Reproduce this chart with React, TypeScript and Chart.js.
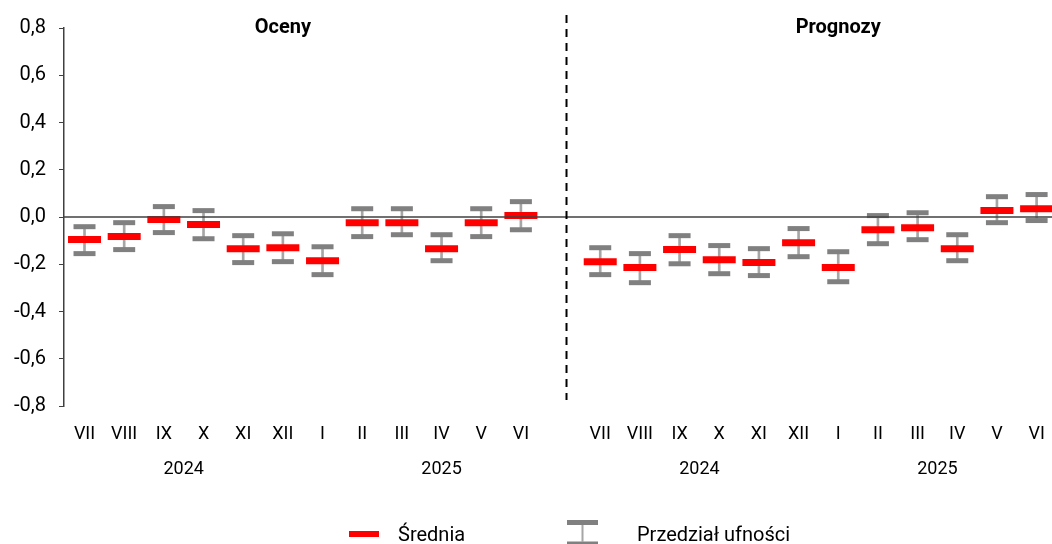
import React, { useEffect, useRef } from "react";
import { Chart, registerables } from "chart.js";

Chart.register(...registerables);

// ---------- data ----------
const MONTHS = ["VII", "VIII", "IX", "X", "XI", "XII", "I", "II", "III", "IV", "V", "VI"];
const YEARS = ["2024", "2025"];
const PANEL_TITLES = ["Oceny", "Prognozy"];

const OCENY_MEAN = [-0.095, -0.083, -0.011, -0.032, -0.134, -0.13, -0.185, -0.024, -0.024, -0.134, -0.024, 0.006];
const OCENY_HIGH = [-0.041, -0.024, 0.044, 0.027, -0.079, -0.071, -0.126, 0.035, 0.035, -0.075, 0.035, 0.065];
const OCENY_LOW = [-0.155, -0.138, -0.066, -0.092, -0.193, -0.189, -0.244, -0.083, -0.075, -0.185, -0.083, -0.054];

const PROG_MEAN = [-0.189, -0.214, -0.138, -0.181, -0.193, -0.109, -0.214, -0.054, -0.045, -0.134, 0.027, 0.035];
const PROG_HIGH = [-0.13, -0.155, -0.079, -0.121, -0.134, -0.049, -0.147, 0.006, 0.018, -0.075, 0.086, 0.095];
const PROG_LOW = [-0.244, -0.278, -0.198, -0.24, -0.248, -0.168, -0.274, -0.113, -0.096, -0.185, -0.024, -0.015];

const Y_MIN = -0.8;
const Y_MAX = 0.8;
const Y_STEP = 0.2;

const LEGEND_LABELS = ["Średnia", "Przedział ufności"];

// ---------- helpers ----------
const GAP = 1; // one empty slot between the panels
const OFFSET_PROG = MONTHS.length + GAP;

function pts(values: number[], offset: number) {
  return values.map((v, i) => ({ x: offset + i, y: v }));
}
function ranges(lo: number[], hi: number[], offset: number) {
  return lo.map((l, i) => ({ x: offset + i, y: [l, hi[i]] }));
}

const FONT = "Roboto, 'Liberation Sans', Arial, sans-serif";
const RED = "#ff0000";
const CAP = "#808080";
const WHISKER = "#a6a6a6";

const overlay = {
  id: "overlay",
  afterDatasetsDraw(chart: any) {
    const { ctx, chartArea, scales } = chart;
    const x = scales.x;
    const y = scales.y;
    ctx.save();

    // zero line
    const y0 = y.getPixelForValue(0);
    ctx.strokeStyle = "#404040";
    ctx.lineWidth = 1.5;
    ctx.beginPath();
    ctx.moveTo(chartArea.left, y0);
    ctx.lineTo(chartArea.right, y0);
    ctx.stroke();

    // dashed divider
    const xd = x.getPixelForValue(MONTHS.length - 1 + 0.5 + 0.65);
    ctx.setLineDash([8, 6]);
    ctx.lineWidth = 2;
    ctx.strokeStyle = "#000";
    ctx.beginPath();
    ctx.moveTo(xd, chartArea.top - 13);
    ctx.lineTo(xd, chartArea.bottom - 6);
    ctx.stroke();
    ctx.setLineDash([]);

    // panel titles
    ctx.fillStyle = "#000";
    ctx.textAlign = "center";
    ctx.textBaseline = "alphabetic";
    ctx.font = `bold 20px ${FONT}`;
    ctx.fillText(PANEL_TITLES[0], x.getPixelForValue(5), chartArea.top + 5);
    ctx.fillText(PANEL_TITLES[1], x.getPixelForValue(OFFSET_PROG + 6), chartArea.top + 5);

    // year labels
    ctx.font = `18px ${FONT}`;
    const yb = chartArea.bottom + 68;
    ctx.fillText(YEARS[0], x.getPixelForValue(2.5), yb);
    ctx.fillText(YEARS[1], x.getPixelForValue(9), yb);
    ctx.fillText(YEARS[0], x.getPixelForValue(OFFSET_PROG + 2.5), yb);
    ctx.fillText(YEARS[1], x.getPixelForValue(OFFSET_PROG + 8.5), yb);

    // legend
    const lb = chart.height - 3;
    ctx.fillStyle = RED;
    ctx.fillRect(349, lb - 10, 30, 6);
    ctx.fillStyle = CAP;
    ctx.fillRect(567, lb - 21, 31, 5);
    ctx.fillRect(567, lb + 0.5, 31, 5);
    ctx.fillStyle = WHISKER;
    ctx.fillRect(581.5, lb - 16, 2, 17);
    ctx.fillStyle = "#000";
    ctx.textAlign = "left";
    ctx.font = `20px ${FONT}`;
    ctx.fillText(LEGEND_LABELS[0], 398, lb);
    ctx.fillText(LEGEND_LABELS[1], 637, lb);

    ctx.restore();
  },
};

export default function App() {
  const ref = useRef<HTMLCanvasElement | null>(null);

  useEffect(() => {
    if (!ref.current) return;
    document.body.style.margin = "0";
    document.body.style.overflow = "hidden";

    const chart = new Chart(ref.current, {
      type: "scatter",
      data: {
        datasets: [
          {
            type: "bar",
            label: "whisker",
            data: [...ranges(OCENY_LOW, OCENY_HIGH, 0), ...ranges(PROG_LOW, PROG_HIGH, OFFSET_PROG)] as any,
            backgroundColor: WHISKER,
            borderWidth: 0,
            barThickness: 2,
            order: 3,
          } as any,
          {
            label: "high",
            data: [...pts(OCENY_HIGH, 0), ...pts(PROG_HIGH, OFFSET_PROG)],
            pointStyle: "line",
            pointRadius: 11,
            borderWidth: 5,
            borderColor: CAP,
            backgroundColor: CAP,
            order: 2,
          } as any,
          {
            label: "low",
            data: [...pts(OCENY_LOW, 0), ...pts(PROG_LOW, OFFSET_PROG)],
            pointStyle: "line",
            pointRadius: 11,
            borderWidth: 5,
            borderColor: CAP,
            backgroundColor: CAP,
            order: 2,
          } as any,
          {
            label: "mean",
            data: [...pts(OCENY_MEAN, 0), ...pts(PROG_MEAN, OFFSET_PROG)],
            pointStyle: "line",
            pointRadius: 16.5,
            borderWidth: 7,
            borderColor: RED,
            backgroundColor: RED,
            order: 1,
          } as any,
        ],
      },
      options: {
        animation: false,
        responsive: false,
        devicePixelRatio: 1,
        events: [],
        layout: { autoPadding: false, padding: { top: 28, left: 0, right: 0, bottom: 0 } },
        plugins: { legend: { display: false }, tooltip: { enabled: false } },
        scales: {
          x: {
            type: "linear",
            offset: false,
            min: -0.517,
            max: 24.388,
            grid: { display: false, drawTicks: true, tickLength: 18 },
            border: { display: false },
            afterBuildTicks: (scale: any) => {
              const t: any[] = [];
              MONTHS.forEach((_, i) => t.push({ value: i }));
              MONTHS.forEach((_, i) => t.push({ value: OFFSET_PROG + i }));
              scale.ticks = t;
            },
            afterFit: (scale: any) => {
              scale.height = 138;
            },
            ticks: {
              autoSkip: false,
              maxRotation: 0,
              padding: 0,
              color: "#000",
              font: { family: FONT, size: 18 },
              callback: (v: any) => {
                const n = Math.round(Number(v));
                if (n < MONTHS.length) return MONTHS[n];
                return MONTHS[n - OFFSET_PROG] ?? "";
              },
            },
          },
          y: {
            type: "linear",
            min: Y_MIN,
            max: Y_MAX,
            grid: { drawOnChartArea: false, drawTicks: true, tickLength: 5, color: "#404040" },
            border: { display: true, color: "#404040", width: 1.5 },
            afterFit: (scale: any) => {
              scale.width = 64;
            },
            ticks: {
              stepSize: Y_STEP,
              padding: 13,
              color: "#000",
              font: { family: FONT, size: 20 },
              callback: (v: any) => {
                const n = Number(v);
                if (Math.abs(n) < 1e-9) return "0,0";
                return n.toFixed(1).replace(".", ",");
              },
            },
          },
        },
      },
      plugins: [overlay],
    } as any);

    return () => chart.destroy();
  }, []);

  return (
    <div style={{ position: "fixed", left: 0, top: 0, width: 1052, height: 544, background: "#fff" }}>
      <canvas ref={ref} width={1052} height={544} style={{ width: 1052, height: 544, display: "block" }} />
    </div>
  );
}
